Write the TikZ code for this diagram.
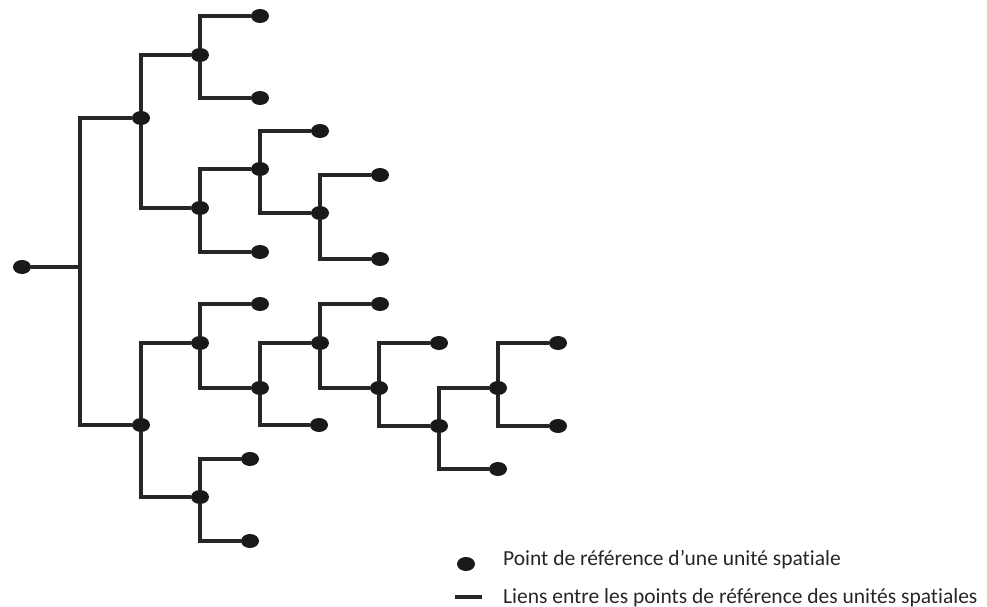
\documentclass[tikz,border=0pt]{standalone}
\usepackage{fontspec}
\setmainfont{Carlito}[Ligatures=NoCommon]
\usepackage{tikz}
\usetikzlibrary{shapes,positioning}
\tikzstyle{pt}=[ellipse, fill=black!90, minimum width=18pt, minimum height=14pt, inner sep=0pt]
\tikzstyle{link}=[draw=black!85, line width=3.2pt]
\tikzstyle{legend}=[anchor=base west, inner sep=0pt, text=black!85, font=\fontsize{21.5}{25}\selectfont]

\begin{document}
\begin{tikzpicture}[x=1pt,y=-1pt]
\useasboundingbox (0,0) rectangle (987,607);
%Points
\node[pt] (r) at (22,267){};
\coordinate (j) at (80,267);
%Upper branch
\node[pt] (a) at (141,118){};
\node[pt] (a1) at (200,55){};
\node[pt] (a11) at (260,16){};
\node[pt] (a12) at (260,98){};
\node[pt] (a2) at (200,208){};
\node[pt] (a21) at (260,169){};
\node[pt] (a211) at (320,131){};
\node[pt] (a212) at (320,213){};
\node[pt] (a2121) at (380,175){};
\node[pt] (a2122) at (380,259){};
\node[pt] (a22) at (260,252){};
%Lower branch
\node[pt] (b) at (141,425){};
\node[pt] (b1) at (200,343){};
\node[pt] (b11) at (260,304){};
\node[pt] (b12) at (260,388){};
\node[pt] (b121) at (320,343){};
\node[pt] (b1211) at (380,304){};
\node[pt] (b1212) at (379,388){};
\node[pt] (c1) at (439,343){};
\node[pt] (c2) at (439,426){};
\node[pt] (c21) at (498,388){};
\node[pt] (c211) at (558,343){};
\node[pt] (c212) at (558,426){};
\node[pt] (c22) at (498,469){};
\node[pt] (b122) at (319,425){};
\node[pt] (b2) at (200,497){};
\node[pt] (b21) at (250,459){};
\node[pt] (b22) at (250,541){};
%Links
\draw[link] (r) -- (j);
\draw[link] (j) |- (a);
\draw[link] (j) |- (b);
\draw[link] (a) |- (a1);
\draw[link] (a) |- (a2);
\draw[link] (a1) |- (a11);
\draw[link] (a1) |- (a12);
\draw[link] (a2) |- (a21);
\draw[link] (a2) |- (a22);
\draw[link] (a21) |- (a211);
\draw[link] (a21) |- (a212);
\draw[link] (a212) |- (a2121);
\draw[link] (a212) |- (a2122);
\draw[link] (b) |- (b1);
\draw[link] (b) |- (b2);
\draw[link] (b1) |- (b11);
\draw[link] (b1) |- (b12);
\draw[link] (b12) |- (b121);
\draw[link] (b12) |- (b122);
\draw[link] (b121) |- (b1211);
\draw[link] (b121) |- (b1212);
\draw[link] (b1212) |- (c1);
\draw[link] (b1212) |- (c2);
\draw[link] (c2) |- (c21);
\draw[link] (c2) |- (c22);
\draw[link] (c21) |- (c211);
\draw[link] (c21) |- (c212);
\draw[link] (b2) |- (b21);
\draw[link] (b2) |- (b22);
%Legend
\node[pt] (lp) at (466,564){};
\node[legend] (lt1) at (503,565){Point de référence d’une unité spatiale};
\coordinate (ll1) at (455,597);
\coordinate (ll2) at (482,597);
\draw[link] (ll1) -- (ll2);
\node[legend] (lt2) at (503,603){Liens entre les points de référence des unités spatiales};
\end{tikzpicture}
\end{document}
